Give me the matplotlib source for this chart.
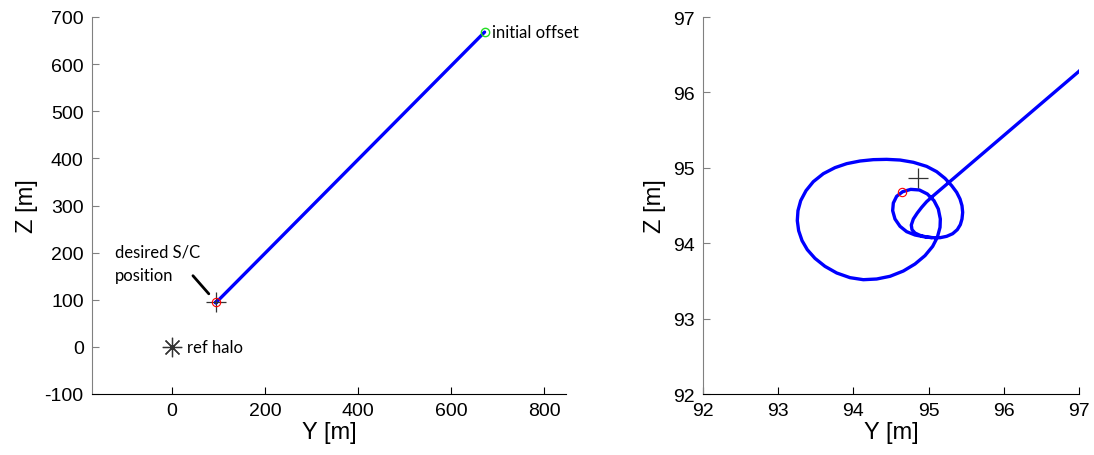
import numpy as np
import matplotlib.pyplot as plt

# relative trajectory in the Y-Z plane [m]
traj_y = [672.0, 97.0, 95.063, 94.974, 94.908, 94.850, 94.797, 94.770, 94.779, 94.819,
          94.886, 94.974, 95.063, 95.152, 95.240, 95.320, 95.382, 95.422, 95.444, 95.453,
          95.444, 95.418, 95.373, 95.307, 95.218, 95.107, 94.974, 94.797, 94.620, 94.442,
          94.265, 94.088, 93.911, 93.755, 93.600, 93.467, 93.370, 93.299, 93.263, 93.254,
          93.272, 93.317, 93.387, 93.489, 93.622, 93.778, 93.955, 94.132, 94.309, 94.487,
          94.664, 94.819, 94.952, 95.054, 95.116, 95.152, 95.156, 95.129, 95.072, 94.983,
          94.877, 94.762, 94.655, 94.575, 94.531, 94.522, 94.553, 94.620, 94.708, 94.819,
          94.930, 95.041]
traj_z = [668.0, 96.28, 94.630, 94.551, 94.476, 94.401, 94.321, 94.241, 94.180, 94.135,
          94.104, 94.082, 94.073, 94.073, 94.091, 94.126, 94.180, 94.246, 94.321, 94.409,
          94.498, 94.586, 94.675, 94.763, 94.860, 94.949, 95.019, 95.073, 95.103, 95.112,
          95.108, 95.090, 95.055, 95.002, 94.922, 94.816, 94.697, 94.564, 94.432, 94.299,
          94.166, 94.034, 93.914, 93.799, 93.693, 93.605, 93.543, 93.516, 93.525, 93.561,
          93.631, 93.724, 93.835, 93.958, 94.078, 94.210, 94.321, 94.454, 94.564, 94.653,
          94.706, 94.714, 94.683, 94.622, 94.533, 94.432, 94.321, 94.224, 94.153, 94.109,
          94.087, 94.073]

start = (672.0, 668.0)        # initial offset
desired = (94.86, 94.86)      # desired S/C position
final = (94.64, 94.68)        # end of simulation
ref_halo = (0.0, 0.0)

left_xticks = [0, 200, 400, 600, 800]
left_yticks = [-100, 0, 100, 200, 300, 400, 500, 600, 700]
right_ticks = [92, 93, 94, 95, 96, 97]

plt.rcParams['font.family'] = 'Liberation Sans'
plt.rcParams['axes.unicode_minus'] = False

fig = plt.figure(figsize=(10.94, 4.56), dpi=100)
ax1 = fig.add_axes([92 / 1094, 61 / 456, 474 / 1094, 377 / 456])
ax2 = fig.add_axes([703 / 1094, 61 / 456, 376 / 1094, 377 / 456])


def style(ax):
    for s in ('top', 'right'):
        ax.spines[s].set_visible(False)
    ax.spines['left'].set_color('#808080')
    ax.spines['bottom'].set_color('black')
    ax.tick_params(direction='in', length=5, labelsize=14, pad=6)
    ax.tick_params(axis='y', color='#808080')
    ax.set_xlabel('Y [m]', fontsize=17, labelpad=1)
    ax.set_ylabel('Z [m]', fontsize=17, labelpad=5)


def markers(ax):
    ax.plot(traj_y, traj_z, color='#0000ff', lw=2.4, solid_joinstyle='round',
            solid_capstyle='round', zorder=2)
    ax.plot(*desired, marker='+', ms=15, mew=0.9, color='#333333', zorder=3)
    ax.plot(*final, marker='o', ms=6, mfc='none', mec='red', mew=0.8, zorder=4)


# full approach
markers(ax1)
ax1.plot(*start, marker='o', ms=6, mfc='none', mec='#22dd22', mew=1.0, zorder=4)
ax1.plot(*ref_halo, marker=(8, 2, 0), ms=14, mew=0.9, color='#333333')
tf = dict(family='Lato', fontsize=12)
ax1.annotate('initial offset', xy=start, xytext=(5, 0), textcoords='offset points',
             va='center', ha='left', **tf)
ax1.annotate('ref halo', xy=ref_halo, xytext=(11, 0), textcoords='offset points',
             va='center', ha='left', **tf)
ax1.text(-123, 178, 'desired S/C\nposition', va='center', ha='left', linespacing=1.55, **tf)
ax1.annotate('', xy=desired, xytext=(45, 151),
             arrowprops=dict(arrowstyle='-', lw=2, color='black', shrinkA=0, shrinkB=8))
ax1.set_xlim(-172, 847)
ax1.set_ylim(-100, 700)
ax1.set_xticks(left_xticks)
ax1.set_yticks(left_yticks)
style(ax1)

# close-up around the desired position
markers(ax2)
ax2.set_xlim(92, 97)
ax2.set_ylim(92, 97)
ax2.set_xticks(right_ticks)
ax2.set_yticks(right_ticks)
style(ax2)

fig.savefig('out.png', dpi=100)
